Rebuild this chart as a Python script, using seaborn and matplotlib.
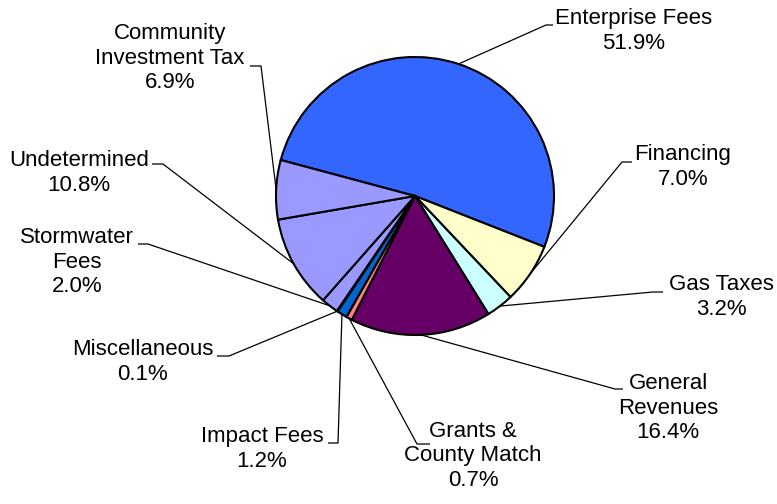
import matplotlib
matplotlib.use("Agg")
import matplotlib.pyplot as plt
import seaborn as sns
import numpy as np

# ---- data ----
categories = ["Enterprise Fees", "Financing", "Gas Taxes", "General\nRevenues",
              "Grants &\nCounty Match", "Impact Fees", "Miscellaneous",
              "Stormwater\nFees", "Undetermined", "Community\nInvestment Tax"]
shares = [51.9, 7.0, 3.2, 16.4, 0.7, 1.2, 0.1, 2.0, 10.8, 6.9]
slice_colors = ["#3366FF", "#FFFFCC", "#CCFFFF", "#660066", "#FF8080",
                "#0066CC", "#000080", "#9999FF", "#9999FF", "#9999FF"]

# ---- layout (pixel coordinates, y from top) ----
W, H = 777, 504
pie_center = (415, 196)
pie_radius = 139
# text centre x, text centre y, elbow x, elbow y, stub end x
label_layout = [
    (634, 31, 546, 25, 553),
    (683, 167, 622, 162, 632),
    (721, 297, 653, 292, 663),
    (668, 408, 615, 389, 623),
    (473, 456, 417, 444, 430),
    (262, 449, 338, 443, 328),
    (143, 362, 229, 356, 217),
    (77, 262, 148, 244, 138),
    (79, 173, 163, 164, 152),
    (170, 58, 261, 66, 250),
]

sns.set_theme(style="white")
plt.rcParams["font.family"] = ["Liberation Sans", "DejaVu Sans"]

fig = plt.figure(figsize=(W / 100, H / 100), dpi=100)
fig.patch.set_facecolor("white")
ax = fig.add_axes([0, 0, 1, 1])

def Y(y):
    return H - y

wedges, _ = ax.pie(shares, colors=slice_colors, startangle=165, counterclock=False,
                   center=(pie_center[0], Y(pie_center[1])), radius=pie_radius,
                   wedgeprops=dict(edgecolor="black", linewidth=1.5))

ax.set_xlim(0, W)
ax.set_ylim(0, H)
ax.set_aspect("equal")
ax.axis("off")

for w, name, p, (tx, ty, ex, ey, sx) in zip(wedges, categories, shares, label_layout):
    mid = np.deg2rad((w.theta1 + w.theta2) / 2)
    cx, cy = w.center
    px = cx + w.r * np.cos(mid)
    py = cy + w.r * np.sin(mid)
    ax.plot([px, ex, sx], [py, Y(ey), Y(ey)], color="black", lw=0.9,
            solid_capstyle="butt", zorder=3)
    ax.text(tx, Y(ty), f"{name}\n{p:.1f}%", ha="center", va="center",
            fontsize=16, color="black", linespacing=1.2, multialignment="center")

fig.savefig("out.png", dpi=100, facecolor="white")
